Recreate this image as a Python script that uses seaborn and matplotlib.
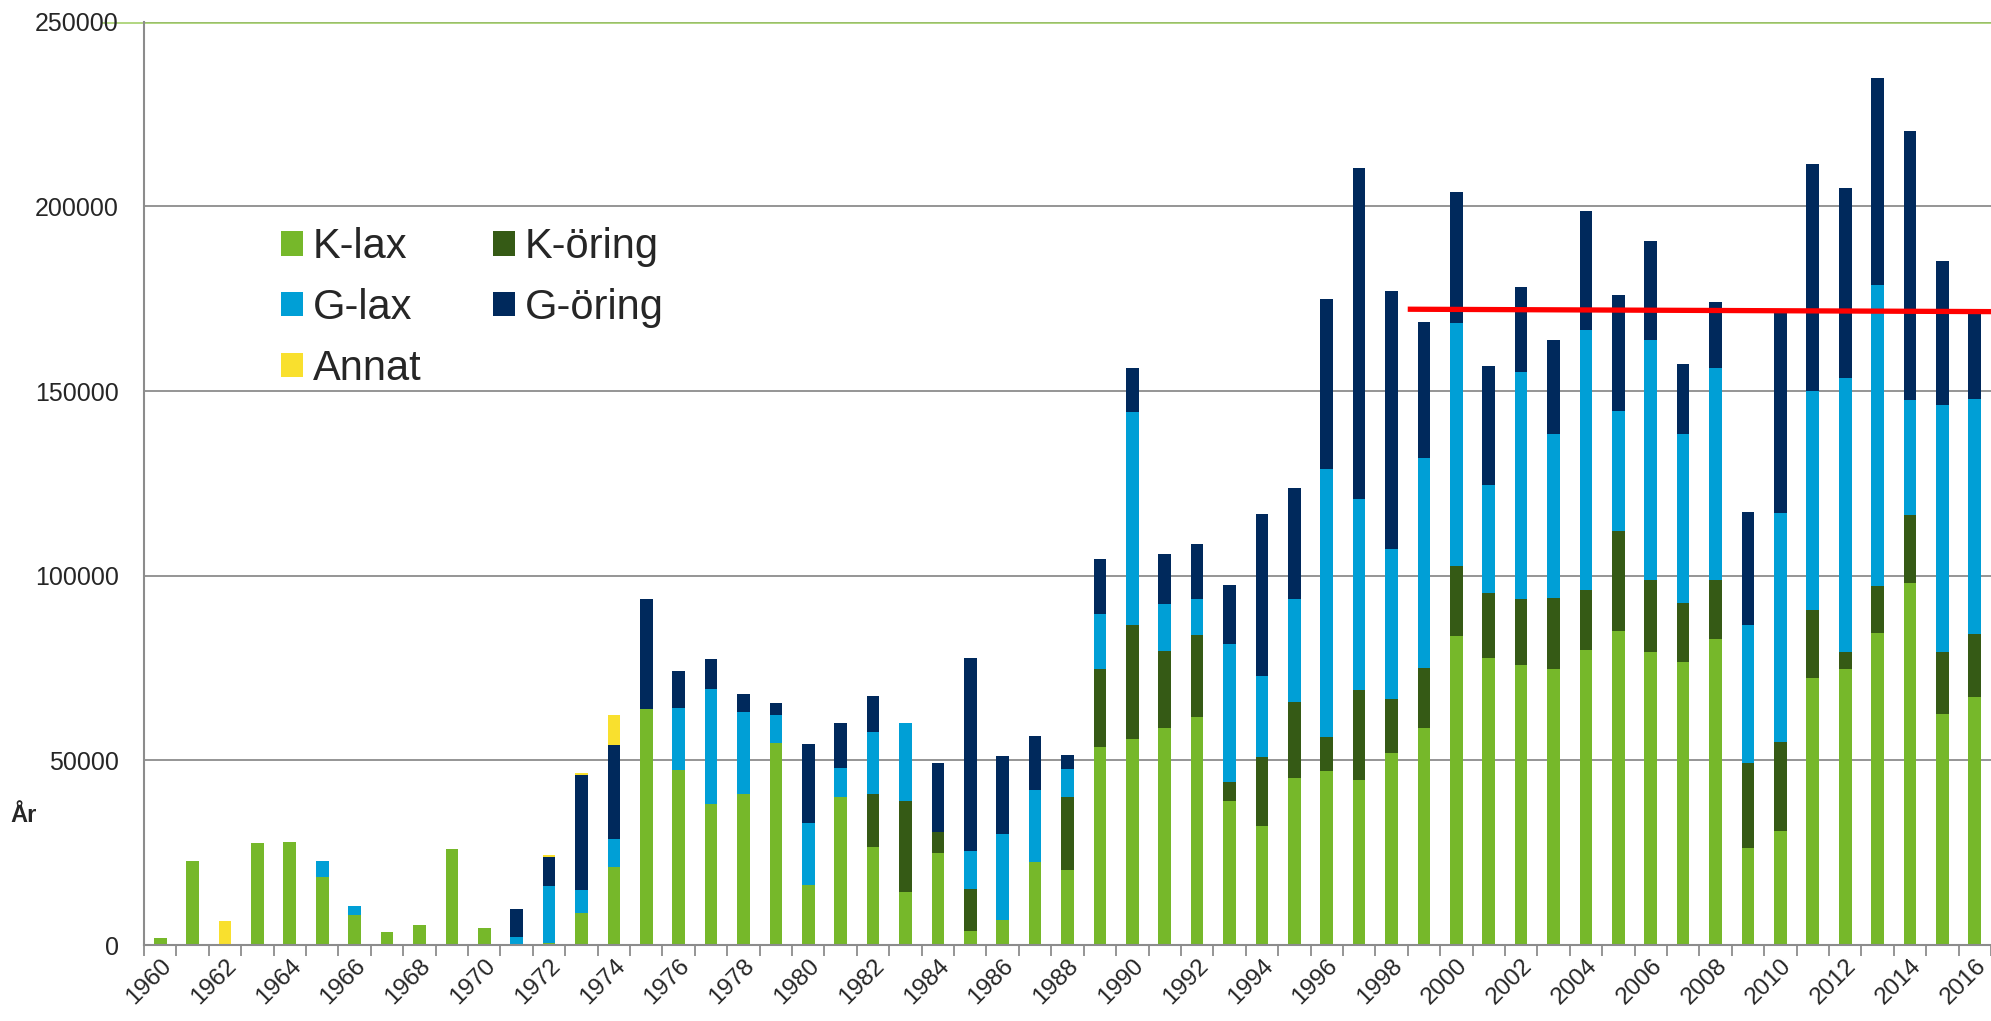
import numpy as np
import pandas as pd
import matplotlib
matplotlib.use("Agg")
import matplotlib.pyplot as plt
import matplotlib.transforms as mtransforms
from matplotlib.patches import Patch
from matplotlib.ticker import MultipleLocator
import seaborn as sns

# -----------------------------
# Data
# -----------------------------
years = list(range(1960, 2017))

k_lax = [2000, 22800, 0, 27500, 27900, 18400, 8200, 3500, 5500, 26100,
         4700, 0, 500, 8600, 21100, 63900, 47400, 38100, 41000, 54600,
         16200, 40100, 26600, 14400, 25000, 3800, 6800, 22500, 20300, 53700,
         55900, 58800, 61800, 38900, 32300, 45300, 47100, 44800, 52000, 58800,
         83700, 77700, 75700, 74800, 79800, 84900, 79200, 76600, 82900, 26300,
         30800, 72400, 74700, 84500, 98100, 62600, 67100]
k_oring = [0, 0, 0, 0, 0, 0, 0, 0, 0, 0,
           0, 0, 0, 0, 0, 0, 0, 0, 0, 0,
           0, 0, 14300, 24700, 5700, 11400, 0, 0, 19700, 20900,
           30700, 20900, 22100, 5200, 18600, 20600, 9200, 24300, 14700, 16300,
           19000, 17700, 18100, 19200, 16200, 27200, 19700, 16000, 16000, 23100,
           24300, 18400, 4700, 12800, 18200, 16800, 17200]
g_lax = [0, 0, 0, 0, 0, 4300, 2300, 0, 0, 0,
         0, 2200, 15500, 6300, 7700, 0, 16700, 31200, 22000, 7600,
         16800, 7900, 16800, 21000, 0, 10300, 23300, 19600, 7600, 15000,
         57700, 12500, 9900, 37400, 21900, 27700, 72700, 51700, 40600, 56700,
         65800, 29100, 61400, 44400, 70500, 32500, 64800, 45700, 57300, 37200,
         61900, 59200, 74000, 81400, 31300, 66800, 63600]
g_oring = [0, 0, 0, 0, 0, 0, 0, 0, 0, 0,
           0, 7500, 7700, 31000, 25300, 29700, 10100, 8100, 4900, 3300,
           21500, 12200, 9700, 0, 18700, 52200, 21100, 14500, 3800, 14900,
           12000, 13700, 14800, 15900, 43900, 30200, 45900, 89500, 69800, 37000,
           35500, 32400, 23100, 25400, 32200, 31400, 26900, 18900, 17900, 30600,
           54500, 61500, 51500, 56000, 72800, 39100, 23200]
annat = [0, 0, 6400, 0, 0, 0, 0, 0, 0, 0,
         0, 0, 700, 800, 8100, 0, 0, 0, 0, 0,
         0, 0, 0, 0, 0, 0, 0, 0, 0, 0,
         0, 0, 0, 0, 0, 0, 0, 0, 0, 0,
         0, 0, 0, 0, 0, 0, 0, 0, 0, 0,
         0, 0, 0, 0, 0, 0, 0]

series_names = ["K-lax", "K-öring", "G-lax", "G-öring", "Annat"]
series_colors = ["#76B82A", "#355A15", "#009FD6", "#00295C", "#F9E02E"]

# red reference line
trend_x = [1998.5, 2016.5]
trend_y = [172150, 171500]

y_ticks = [0, 50000, 100000, 150000, 200000, 250000]

# -----------------------------
# Build table
# -----------------------------
df = pd.DataFrame({"Year": years, "K-lax": k_lax, "K-öring": k_oring,
                   "G-lax": g_lax, "G-öring": g_oring, "Annat": annat})
cum = df[series_names].cumsum(axis=1)

# -----------------------------
# Plot
# -----------------------------
sns.set_style("white")
plt.rcParams["font.family"] = ["Liberation Sans", "DejaVu Sans"]

W, H = 1991, 1021
fig = plt.figure(figsize=(W / 100, H / 100), dpi=100)
ax = fig.add_axes([144 / W, (1021 - 945) / H, 1 - 144 / W, (945 - 21.7) / H])

grid_c = "#8C8C8C"
for y in y_ticks:
    ax.axhline(y, color=grid_c, lw=1.3, zorder=0)
# pale green line just under the top gridline
off = mtransforms.offset_copy(ax.transData, fig=fig, x=0, y=-1.5, units="dots")
ax.plot([1958.2, 2016.5], [y_ticks[-1]] * 2, color="#9CCB5E", lw=1.1,
        transform=off, clip_on=False, zorder=0.5)

# stacked bars: draw cumulative totals from the top layer down
for name, color in reversed(list(zip(series_names, series_colors))):
    sns.barplot(x=df["Year"], y=cum[name], color=color, saturation=1,
                width=0.39, native_scale=True, errorbar=None,
                linewidth=0, ax=ax, zorder=2)

ax.plot(trend_x, trend_y, color="#FF0000", lw=3.8, solid_capstyle="butt",
        clip_on=False, zorder=3)

ax.set_xlim(years[0] - 0.5, years[-1] + 0.5)
ax.set_ylim(0, y_ticks[-1])
ax.set_xlabel("")
ax.set_ylabel("")

ax.set_yticks(y_ticks)
ax.set_yticklabels([str(v) for v in y_ticks], fontsize=18)
ax.tick_params(axis="y", length=7, width=1.3, color=grid_c, pad=11)

ax.set_xticks(years[::2])
ax.set_xticklabels([str(y) for y in years[::2]], fontsize=17.5, rotation=45,
                   ha="right", rotation_mode="anchor")
shift = mtransforms.ScaledTranslation(-6 / 100, 0, fig.dpi_scale_trans)
for lab in ax.get_xticklabels():
    lab.set_transform(lab.get_transform() + shift)
ax.xaxis.set_minor_locator(MultipleLocator(1, offset=0.5))
ax.tick_params(axis="x", which="major", length=0, pad=7)
ax.tick_params(axis="x", which="minor", length=8, width=1.3, color=grid_c,
               bottom=True)

for s in ["top", "right"]:
    ax.spines[s].set_visible(False)
for s in ["left", "bottom"]:
    ax.spines[s].set_color(grid_c)
    ax.spines[s].set_linewidth(1.5)
ax.grid(False)

handles = [Patch(facecolor=c, edgecolor="none") for c in series_colors]
order = [0, 2, 4, 1, 3]
ax.legend([handles[i] for i in order], [series_names[i] for i in order],
          ncol=2, frameon=False, fontsize=30, loc="upper left",
          bbox_to_anchor=(281 / W, 1 - 227 / H), bbox_transform=fig.transFigure,
          borderpad=0, borderaxespad=0, handlelength=0.53, handleheight=0.53,
          handletextpad=0.24, columnspacing=1.7, labelspacing=0.5)

fig.text(24 / W, 1 - 815 / H, "År", fontsize=17, fontweight="bold",
         ha="center", va="center")

fig.savefig("out.png", dpi=100)
